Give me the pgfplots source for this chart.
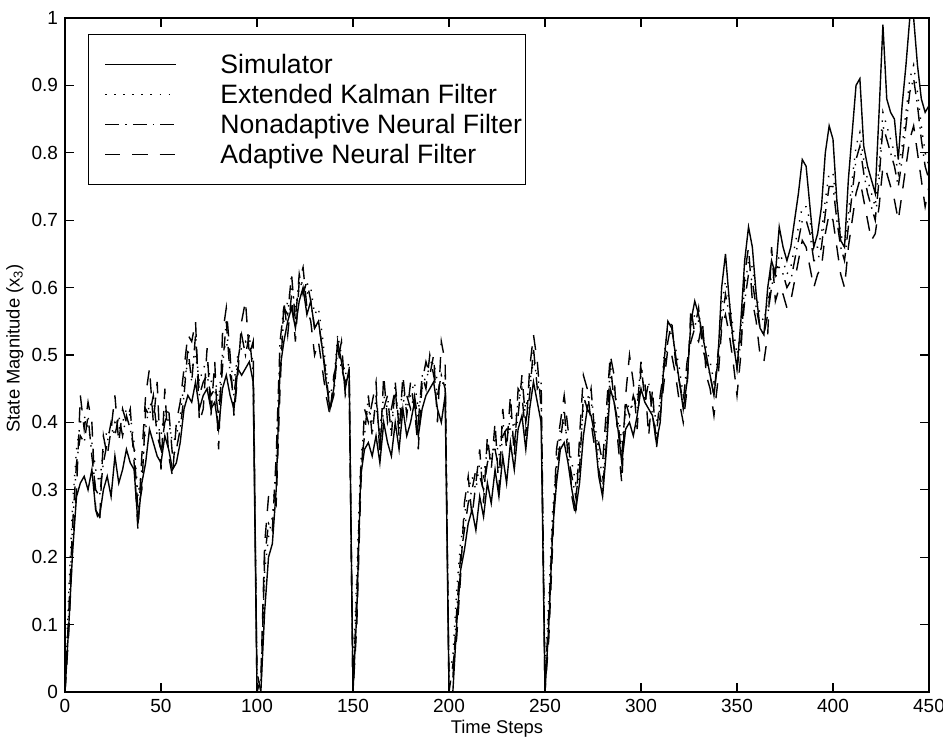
\documentclass[border=0pt]{standalone}
\usepackage{fontspec}
\setmainfont{Liberation Sans}
\usepackage{pgfplots}
\usepackage{pgfplotstable}
\pgfplotsset{compat=1.18}
\pgfplotstableread{
x s e n a
0 0.00 0.00 0.00 0.00
2 0.10 0.15 0.12 0.09
4 0.21 0.28 0.25 0.22
6 0.29 0.36 0.34 0.30
8 0.31 0.40 0.38 0.44
10 0.32 0.41 0.37 0.39
12 0.30 0.39 0.41 0.43
14 0.33 0.37 0.35 0.40
16 0.27 0.33 0.30 0.27
18 0.26 0.31 0.29 0.25
20 0.30 0.36 0.34 0.38
22 0.32 0.39 0.37 0.35
24 0.29 0.38 0.40 0.39
26 0.35 0.40 0.38 0.44
28 0.31 0.39 0.41 0.37
30 0.33 0.40 0.38 0.42
32 0.36 0.42 0.41 0.40
34 0.34 0.41 0.39 0.42
36 0.33 0.37 0.36 0.34
38 0.25 0.29 0.27 0.24
40 0.31 0.33 0.30 0.35
42 0.34 0.39 0.42 0.44
44 0.39 0.43 0.41 0.48
46 0.37 0.42 0.44 0.40
48 0.35 0.40 0.38 0.46
50 0.34 0.38 0.36 0.33
52 0.38 0.42 0.40 0.45
54 0.36 0.40 0.42 0.35
56 0.33 0.37 0.35 0.32
58 0.34 0.38 0.36 0.40
60 0.37 0.41 0.39 0.43
62 0.42 0.46 0.44 0.48
64 0.44 0.49 0.51 0.53
66 0.43 0.48 0.46 0.52
68 0.46 0.50 0.53 0.55
70 0.42 0.46 0.44 0.40
72 0.44 0.48 0.46 0.42
74 0.45 0.49 0.47 0.51
76 0.42 0.46 0.44 0.41
78 0.43 0.47 0.45 0.49
80 0.39 0.43 0.41 0.36
82 0.45 0.50 0.48 0.53
84 0.47 0.52 0.55 0.57
86 0.44 0.49 0.47 0.50
88 0.42 0.46 0.44 0.41
90 0.48 0.50 0.49 0.47
92 0.47 0.51 0.53 0.55
94 0.48 0.52 0.50 0.58
96 0.49 0.51 0.53 0.50
98 0.46 0.49 0.47 0.52
100 0.00 0.02 0.03 0.00
102 0.00 0.01 0.00 0.02
104 0.12 0.18 0.20 0.22
106 0.20 0.23 0.25 0.29
108 0.22 0.26 0.24 0.30
110 0.30 0.32 0.35 0.28
112 0.48 0.50 0.52 0.45
114 0.52 0.55 0.57 0.58
116 0.55 0.58 0.56 0.53
118 0.57 0.60 0.62 0.59
120 0.54 0.57 0.55 0.52
122 0.58 0.60 0.62 0.61
124 0.60 0.61 0.59 0.63
126 0.56 0.59 0.61 0.57
128 0.58 0.60 0.58 0.55
130 0.54 0.56 0.54 0.50
132 0.55 0.57 0.55 0.52
134 0.51 0.53 0.51 0.48
136 0.46 0.48 0.47 0.44
138 0.42 0.44 0.42 0.41
140 0.45 0.46 0.44 0.47
142 0.52 0.53 0.51 0.49
144 0.49 0.50 0.48 0.52
146 0.45 0.47 0.46 0.44
148 0.48 0.49 0.47 0.46
150 0.00 0.02 0.00 0.00
152 0.12 0.18 0.15 0.10
154 0.32 0.34 0.33 0.30
156 0.36 0.40 0.38 0.42
158 0.37 0.42 0.44 0.40
160 0.35 0.40 0.38 0.43
162 0.38 0.42 0.44 0.46
164 0.34 0.39 0.37 0.35
166 0.40 0.44 0.42 0.47
168 0.37 0.42 0.44 0.40
170 0.35 0.40 0.38 0.42
172 0.40 0.44 0.46 0.45
174 0.36 0.41 0.39 0.38
176 0.42 0.45 0.43 0.47
178 0.38 0.42 0.44 0.41
180 0.40 0.44 0.42 0.46
182 0.43 0.46 0.44 0.42
184 0.38 0.42 0.40 0.36
186 0.42 0.45 0.47 0.46
188 0.44 0.47 0.45 0.49
190 0.45 0.48 0.50 0.47
192 0.46 0.49 0.47 0.50
194 0.42 0.46 0.44 0.40
196 0.40 0.45 0.47 0.52
198 0.44 0.47 0.45 0.49
200 0.00 0.03 0.02 0.00
202 0.00 0.05 0.02 0.04
204 0.10 0.15 0.12 0.08
206 0.18 0.22 0.20 0.17
208 0.21 0.26 0.24 0.28
210 0.25 0.30 0.28 0.32
212 0.27 0.32 0.30 0.26
214 0.24 0.30 0.33 0.31
216 0.29 0.34 0.32 0.36
218 0.26 0.32 0.30 0.28
220 0.31 0.36 0.34 0.38
222 0.28 0.34 0.36 0.33
224 0.33 0.38 0.36 0.40
226 0.29 0.35 0.33 0.30
228 0.35 0.40 0.38 0.42
230 0.31 0.37 0.39 0.36
232 0.37 0.41 0.39 0.44
234 0.33 0.39 0.37 0.35
236 0.39 0.43 0.41 0.45
238 0.41 0.45 0.47 0.44
240 0.36 0.42 0.40 0.38
242 0.42 0.46 0.44 0.48
244 0.46 0.49 0.51 0.53
246 0.43 0.47 0.45 0.49
248 0.40 0.44 0.46 0.42
250 0.00 0.03 0.01 0.00
252 0.10 0.14 0.12 0.08
254 0.24 0.27 0.25 0.22
256 0.31 0.34 0.33 0.36
258 0.36 0.39 0.37 0.40
260 0.37 0.40 0.42 0.44
262 0.34 0.37 0.35 0.39
264 0.30 0.34 0.32 0.29
266 0.27 0.31 0.29 0.26
268 0.31 0.35 0.33 0.38
270 0.38 0.42 0.44 0.47
272 0.42 0.44 0.42 0.45
274 0.41 0.43 0.45 0.40
276 0.38 0.40 0.38 0.36
278 0.32 0.35 0.33 0.37
280 0.29 0.32 0.30 0.34
282 0.36 0.39 0.37 0.42
284 0.45 0.47 0.49 0.50
286 0.43 0.45 0.43 0.47
288 0.39 0.42 0.40 0.37
290 0.34 0.37 0.35 0.31
292 0.39 0.41 0.43 0.44
294 0.40 0.43 0.41 0.50
296 0.38 0.42 0.44 0.46
298 0.41 0.44 0.42 0.39
300 0.45 0.47 0.49 0.48
302 0.43 0.45 0.43 0.46
304 0.42 0.44 0.46 0.38
306 0.41 0.43 0.41 0.45
308 0.37 0.40 0.38 0.36
310 0.40 0.42 0.44 0.41
312 0.49 0.50 0.48 0.46
314 0.55 0.54 0.52 0.51
316 0.54 0.53 0.55 0.50
318 0.50 0.51 0.49 0.47
320 0.46 0.48 0.46 0.43
322 0.42 0.44 0.43 0.40
324 0.46 0.47 0.49 0.45
326 0.55 0.54 0.52 0.57
328 0.58 0.56 0.54 0.53
330 0.56 0.55 0.57 0.52
332 0.53 0.53 0.51 0.55
334 0.50 0.51 0.49 0.47
336 0.47 0.49 0.47 0.45
338 0.44 0.46 0.44 0.41
340 0.49 0.48 0.50 0.46
342 0.60 0.57 0.55 0.54
344 0.65 0.61 0.59 0.56
346 0.58 0.58 0.56 0.53
348 0.52 0.54 0.52 0.49
350 0.48 0.50 0.48 0.44
352 0.55 0.54 0.52 0.50
354 0.64 0.60 0.58 0.62
356 0.69 0.64 0.62 0.66
358 0.66 0.63 0.61 0.58
360 0.59 0.59 0.57 0.55
362 0.54 0.56 0.54 0.50
364 0.53 0.55 0.53 0.49
366 0.60 0.58 0.56 0.53
368 0.64 0.62 0.60 0.66
370 0.62 0.61 0.63 0.58
372 0.69 0.65 0.63 0.60
374 0.66 0.64 0.62 0.59
376 0.64 0.62 0.60 0.57
378 0.66 0.63 0.61 0.58
380 0.70 0.66 0.64 0.61
382 0.74 0.69 0.67 0.64
384 0.79 0.72 0.70 0.67
386 0.78 0.72 0.70 0.66
388 0.72 0.70 0.68 0.63
390 0.66 0.66 0.64 0.60
392 0.68 0.66 0.64 0.62
394 0.72 0.68 0.66 0.63
396 0.80 0.73 0.71 0.68
398 0.84 0.77 0.75 0.71
400 0.82 0.77 0.75 0.70
402 0.73 0.72 0.70 0.66
404 0.67 0.68 0.66 0.62
406 0.66 0.66 0.64 0.60
408 0.76 0.71 0.69 0.66
410 0.83 0.76 0.74 0.70
412 0.90 0.81 0.79 0.74
414 0.91 0.83 0.81 0.76
416 0.81 0.79 0.77 0.73
418 0.78 0.76 0.74 0.70
420 0.76 0.74 0.72 0.67
422 0.74 0.72 0.70 0.68
424 0.86 0.78 0.76 0.72
426 0.99 0.86 0.84 0.78
428 0.88 0.84 0.82 0.77
430 0.86 0.82 0.80 0.75
432 0.85 0.80 0.78 0.73
434 0.79 0.77 0.75 0.70
436 0.87 0.81 0.79 0.74
438 0.93 0.86 0.84 0.78
440 1.00 0.91 0.89 0.82
442 1.00 0.93 0.91 0.84
444 0.93 0.89 0.87 0.80
446 0.88 0.84 0.82 0.76
448 0.86 0.80 0.78 0.72
450 0.87 0.78 0.76 0.75
}\datatable
\begin{document}
\begin{tikzpicture}
\useasboundingbox (-32.5pt,-24.5pt) rectangle (439pt,346pt);
\begin{axis}[
  at={(0pt,0pt)}, anchor=south west,
  scale only axis, width=432pt, height=337pt,
  xmin=0, xmax=450, ymin=0, ymax=1,
  xtick={0,50,100,150,200,250,300,350,400,450},
  ytick={0,0.1,0.2,0.3,0.4,0.5,0.6,0.7,0.8,0.9,1},
  yticklabels={0,0.1,0.2,0.3,0.4,0.5,0.6,0.7,0.8,0.9,1},
  tick align=inside, tick pos=both,
  major tick length=4.5pt,
  axis line style={line width=0.7pt},
  every tick/.style={black, line width=0.6pt},
  tick label style={font=\fontsize{9.5}{11}\selectfont},
  /pgf/number format/assume math mode=true,
  xlabel={Time Steps},
  ylabel={State Magnitude (x\textsubscript{3})},
  label style={font=\fontsize{9.2}{11}\selectfont},
  xlabel style={at={(axis description cs:0.5,0)}, anchor=center, yshift=-18.5pt},
  ylabel style={at={(axis description cs:-0.0579,0.51)}, anchor=center},
  legend cell align=left,
  legend image code/.code={\path[draw=none,fill=none] (0pt,-1pt) rectangle (64.5pt,1pt); \draw[#1] (7pt,0pt) -- (42pt,0pt);},
  legend style={at={(axis description cs:0,1)}, anchor=north west, xshift=11.5pt, yshift=-8pt,
    draw=black, line width=0.5pt, inner xsep=1.5pt, inner ysep=7.5pt,
    font=\fontsize{13.3}{15}\selectfont,
    nodes={inner xsep=0pt, inner ysep=0pt, text height=12pt, text depth=3pt, anchor=west}},
]
\addplot[black, line width=0.7pt] table[x=x, y=s] {\datatable};
\addlegendentry{Simulator}
\addplot[black, line width=0.7pt, dash pattern=on 0.7pt off 3.8pt] table[x=x, y=e] {\datatable};
\addlegendentry{Extended Kalman Filter}
\addplot[black, line width=0.7pt, dash pattern=on 7pt off 3pt on 0.7pt off 3pt] table[x=x, y=n] {\datatable};
\addlegendentry{Nonadaptive Neural Filter}
\addplot[black, line width=0.7pt, dash pattern=on 7.5pt off 6pt] table[x=x, y=a] {\datatable};
\addlegendentry{Adaptive Neural Filter}
\end{axis}
\end{tikzpicture}
\end{document}
